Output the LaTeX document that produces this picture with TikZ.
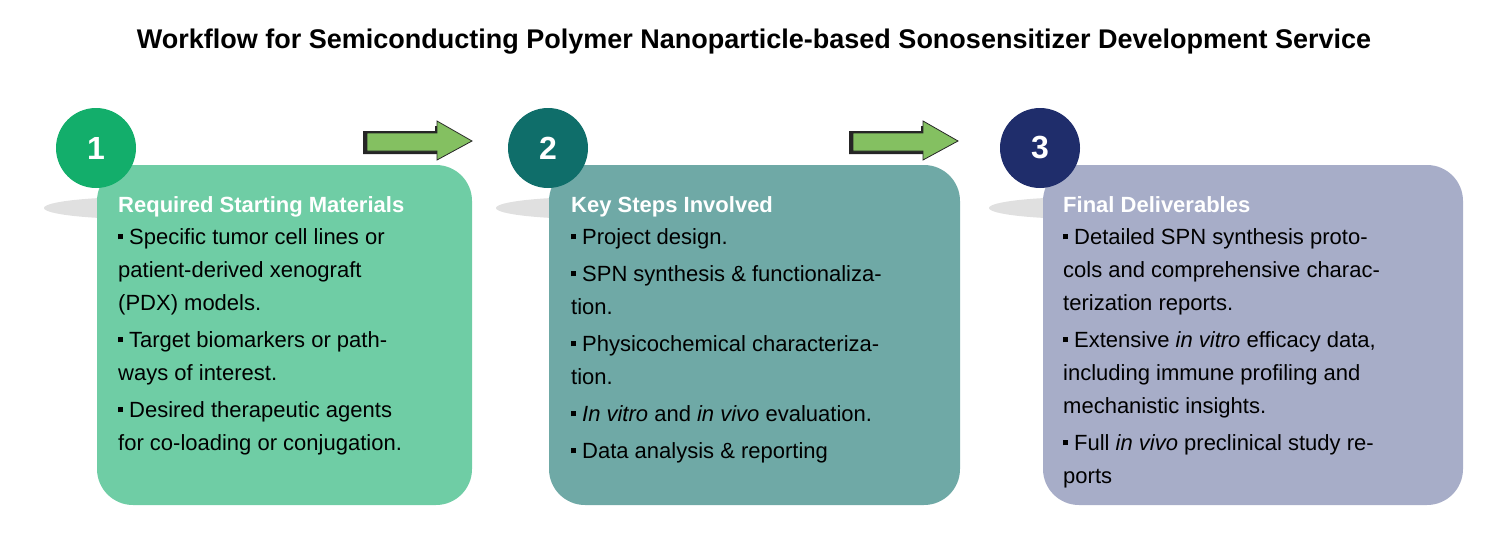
\documentclass[tikz,border=0pt]{standalone}
\usepackage{fontspec}
\setmainfont{Liberation Sans}
\begin{document}
\begin{tikzpicture}[x=1pt,y=-1pt,
  box/.style={rounded corners=36pt},
  bul/.style={anchor=north west,align=left,font=\fontsize{22}{33}\selectfont,inner sep=0pt},
  head/.style={anchor=north west,font=\fontsize{22}{26}\selectfont\bfseries,text=white,inner sep=0pt},
  num/.style={circle,minimum size=80pt,inner sep=0pt,text=white,font=\fontsize{32}{32}\selectfont\bfseries},
  sh/.style={fill=black!12},
  arr/.style={draw=black!85,line width=0.8pt,fill=arrgreen}]
\definecolor{boxa}{HTML}{6FCDA5}\definecolor{cira}{HTML}{13AE6B}
\definecolor{boxb}{HTML}{6FA9A6}\definecolor{cirb}{HTML}{0F6E6A}
\definecolor{boxc}{HTML}{A7ADC8}\definecolor{circ}{HTML}{1F2D6B}
\definecolor{arrgreen}{HTML}{84C061}
\newcommand{\bu}{\rule[0.22em]{0.22em}{0.22em}\ }
\useasboundingbox (0,0) rectangle (1499,546);
\node[font=\fontsize{27}{30}\selectfont\bfseries] (title) at (754,42) {Workflow for Semiconducting Polymer Nanoparticle-based Sonosensitizer Development Service};
% shadows
\fill[sh] (140,208) ellipse (96pt and 11pt);
\fill[sh] (592,208) ellipse (96pt and 11pt);
\fill[sh] (1085,208) ellipse (96pt and 11pt);
% boxes
\fill[boxa,box] (97,165) rectangle (472,505);
\fill[boxb,box] (549,165) rectangle (960,505);
\fill[boxc,box] (1043,165) rectangle (1463,505);
\node[num,fill=cira] (c1) at (96,148) {1};
\node[num,fill=cirb] (c2) at (548,148) {2};
\node[num,fill=circ] (c3) at (1040,148) {3};
% arrows
\foreach \x/\n in {365/a1,851/a2}{
 \fill[black!85] (\x-2,131) -- (\x+70,131) -- (\x+70,126) -- (\x+72,126) -- (\x+72,154) -- (\x-2,154) -- cycle;
 \draw[arr] (\x+2,133) -- (\x+72,133) -- (\x+72,121) -- (\x+107,141) -- (\x+72,160) -- (\x+72,151) -- (\x+2,151) -- cycle;
}
% texts
\node[head] (h1) at (118,196) {Required Starting Materials};
\node[bul] (t1) at (118,228) {\bu Specific tumor cell lines or\\patient-derived xenograft\\(PDX) models.\\[4pt]\bu Target biomarkers or path-\\ways of interest.\\[4pt]\bu Desired therapeutic agents\\for co-loading or conjugation.};
\node[head] (h2) at (571,196) {Key Steps Involved};
\node[bul] (t2) at (571,228) {\bu Project design.\\[4pt]\bu SPN synthesis \& functionaliza-\\tion.\\[4pt]\bu Physicochemical characteriza-\\tion.\\[4pt]\bu \textit{In vitro} and \textit{in vivo} evaluation.\\[4pt]\bu Data analysis \& reporting};
\node[head] (h3) at (1063,196) {Final Deliverables};
\node[bul] (t3) at (1063,228) {\bu Detailed SPN synthesis proto-\\cols and comprehensive charac-\\terization reports.\\[4pt]\bu Extensive \textit{in vitro} efficacy data,\\including immune profiling and\\mechanistic insights.\\[4pt]\bu Full \textit{in vivo} preclinical study re-\\ports};
\end{tikzpicture}
\end{document}
